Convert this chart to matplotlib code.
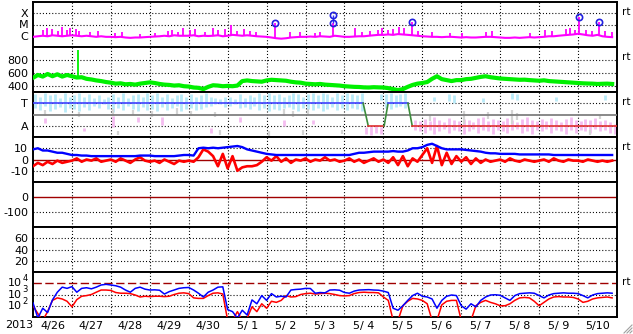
import numpy as np
import matplotlib
matplotlib.use('Agg')
import matplotlib.pyplot as plt
from matplotlib.lines import Line2D

plt.rcParams['font.family'] = ['DejaVu Sans']
plt.rcParams['lines.scale_dashes'] = False

# ---------------- data (3-hour samples, days since 2013-04-26 00:00) ----------------
day_labels = ['4/26', '4/27', '4/28', '4/29', '4/30', '5/ 1', '5/ 2', '5/ 3', '5/ 4',
              '5/ 5', '5/ 6', '5/ 7', '5/ 8', '5/ 9', '5/10']
year_label = '2013'

# X-ray background flux (units of 1e-6 W/m2)
xray_base = [0.8, 0.9, 1.0, 0.9, 1.1, 1.0, 0.9, 1.0,
             1.1, 1.0, 0.9, 1.0, 0.9, 0.8, 0.9, 0.8,
             0.8, 0.75, 0.8, 0.7, 0.65, 0.7, 0.7, 0.75,
             0.8, 0.85, 0.9, 1.0, 0.9, 1.1, 1.0, 1.0,
             1.0, 1.1, 0.9, 1.0, 0.95, 1.0, 1.1, 0.9,
             1.0, 1.2, 1.1, 1.0, 1.1, 1.0, 0.9, 0.85,
             0.8, 0.7, 0.6, 0.55, 0.6, 0.7, 0.75, 0.8,
             0.8, 0.85, 0.8, 0.9, 0.85, 0.8, 1.0, 0.9,
             0.8, 0.8, 0.85, 0.9, 0.9, 1.0, 1.1, 1.2,
             1.2, 1.3, 1.2, 1.4, 1.3, 1.2, 1.1, 1.0,
             0.9, 0.85, 0.8, 0.8, 0.75, 0.8, 0.8, 0.75,
             0.7, 0.75, 0.7, 0.7, 0.75, 0.8, 0.8, 0.75,
             0.7, 0.65, 0.65, 0.7, 0.65, 0.7, 0.75, 0.7,
             0.75, 0.8, 0.9, 0.9, 1.0, 1.1, 1.2, 1.3,
             1.5, 1.3, 1.1, 1.0, 1.2, 0.9, 0.8, 0.75]
xray_spike_day = [0.26, 0.36, 0.49, 0.64, 0.74, 0.87, 0.95, 1.10, 1.18, 1.46, 1.67,
                  2.11, 2.29, 2.75, 3.13, 3.47, 3.57, 3.72, 3.85, 4.03, 4.16, 4.42,
                  4.62, 4.75, 4.93, 5.09, 5.24, 5.42, 5.57, 5.73, 6.22, 6.60, 6.86,
                  7.24, 7.37, 7.71, 8.27, 8.45, 8.66, 8.86, 8.96, 9.12, 9.25, 9.40,
                  9.53, 9.74, 9.89, 10.25, 10.71, 11.02, 11.64, 11.79, 12.77, 13.15,
                  13.33, 13.69, 13.79, 13.92, 14.03, 14.20, 14.36, 14.54, 14.69, 14.87]
xray_spike_peak = [3.2, 4.9, 4.0, 2.6, 6.0, 3.2, 4.9, 4.0, 2.6, 2.2, 2.6,
                   1.8, 2.2, 1.4, 1.8, 2.6, 3.2, 2.2, 4.9, 3.2, 4.0, 2.2,
                   4.9, 3.2, 4.0, 9.0, 2.6, 4.0, 2.6, 2.2, 13.6, 2.2, 2.2,
                   1.8, 2.2, 13.6, 4.9, 2.2, 2.6, 3.2, 4.9, 3.2, 4.0, 6.0,
                   4.9, 16.7, 2.6, 2.2, 1.8, 1.8, 2.2, 2.6, 1.8, 3.2,
                   2.6, 4.0, 4.9, 3.2, 46.0, 3.2, 2.6, 16.7, 2.6, 2.2]
flare_day = [6.22, 7.71, 7.71, 9.74, 14.03, 14.54]
flare_peak = [13.6, 13.6, 70.0, 16.7, 46.0, 16.7]

# Solar wind speed (km/s)
sw_speed = [520, 565, 540, 580, 545, 575, 540, 565,
            545, 525, 530, 505, 495, 480, 470, 455,
            445, 430, 435, 420, 425, 415, 430, 440,
            450, 440, 425, 415, 410, 400, 405, 390,
            385, 370, 365, 345, 380, 405, 400, 390,
            395, 390, 400, 470, 480, 470, 465, 460,
            480, 490, 485, 480, 475, 460, 450, 445,
            430, 425, 420, 425, 415, 410, 405, 400,
            390, 385, 380, 378, 372, 370, 375, 372,
            370, 360, 345, 330, 345, 380, 410, 430,
            440, 455, 505, 545, 500, 485, 470, 485,
            485, 500, 505, 520, 535, 545, 530, 520,
            510, 505, 500, 495, 490, 492, 485, 480,
            475, 482, 470, 465, 460, 455, 450, 445,
            440, 435, 432, 430, 425, 428, 430, 425]
sw_spike_day = 1.16
sw_spike_val = 960

# IMF sector (T=3, A=1)
sector_day = [0, 8.48, 8.61, 9.02, 9.12, 9.63, 9.74, 15]
sector_val = [3, 3, 1, 1, 3, 3, 1, 1]
nan = np.nan
toward_hi = [3.8, 3.6, 3.9, 3.7, 3.8, 3.5, 3.9, 3.6,
             3.7, 3.9, 3.6, 3.8, 3.5, 3.7, 3.4, 3.6,
             3.8, 3.6, 3.9, 3.5, 3.7, 3.8, 3.6, 3.9,
             3.7, 3.9, 3.6, 3.8, 3.5, 3.7, 3.8, 3.6,
             3.8, 3.6, 3.7, 3.9, 3.6, 3.5, 3.4, 3.6,
             3.6, 3.4, 3.8, 3.5, 3.7, 3.6, 3.9, 3.7,
             3.9, 3.7, 3.8, 3.6, 3.7, 3.9, 3.8, 3.6,
             3.8, 3.9, 3.7, 3.9, 3.8, 3.6, 3.9, 3.7,
             3.9, 3.8, 3.7, 3.9, nan, nan, nan, 3.8,
             3.8, 3.9, 3.7, 3.8, 3.9, nan, nan, nan,
             nan, nan, 3.6, nan, nan, 3.8, 3.7, nan,
             nan, nan, nan, nan, 3.5, nan, nan, nan,
             nan, nan, 3.9, 3.8, nan, nan, nan, nan,
             nan, nan, nan, 3.6, nan, nan, nan, nan,
             nan, nan, nan, nan, nan, 3.7, nan, nan]
toward_lo = [2.6, 2.4, 2.8, 2.3, 2.5, 2.7, 2.2, 2.6,
             2.5, 2.3, 2.7, 2.4, 2.8, 2.6, 2.9, 2.5,
             2.2, 2.6, 2.4, 2.8, 2.5, 2.3, 2.7, 2.4,
             2.5, 2.3, 2.7, 2.4, 2.6, 2.8, 2.3, 2.5,
             2.6, 2.4, 2.5, 2.7, 2.8, 2.9, 2.9, 2.7,
             2.8, 2.9, 2.6, 2.7, 2.5, 2.8, 2.4, 2.6,
             2.3, 2.5, 2.4, 2.6, 2.7, 2.5, 2.3, 2.6,
             2.5, 2.4, 2.6, 2.3, 2.5, 2.7, 2.4, 2.6,
             2.4, 2.6, 2.5, 2.3, nan, nan, nan, 3.3,
             2.6, 2.5, 2.7, 2.8, 2.6, nan, nan, nan,
             nan, nan, 3.2, nan, nan, 3.2, 3.0, nan,
             nan, nan, nan, nan, 3.1, nan, nan, nan,
             nan, nan, 3.4, 3.3, nan, nan, nan, nan,
             nan, nan, nan, 3.2, nan, nan, nan, nan,
             nan, nan, nan, nan, nan, 3.3, nan, nan]
away_lo = [nan, nan, 1.25, nan, nan, nan, nan, nan,
           nan, nan, 0.5, nan, nan, nan, nan, nan,
           0.9, nan, nan, nan, nan, 1.3, nan, nan,
           nan, nan, 1.1, nan, nan, nan, nan, nan,
           nan, nan, nan, nan, 0.35, nan, nan, nan,
           nan, nan, 1.3, nan, nan, nan, nan, nan,
           nan, nan, nan, 1.0, nan, nan, nan, nan,
           nan, 1.2, nan, nan, nan, nan, nan, nan,
           nan, nan, nan, nan, 0.3, 0.2, 0.4, 0.3,
           nan, nan, nan, nan, nan, nan, 0.6, 0.5,
           0.4, 0.6, 0.3, 0.5, 0.7, 0.4, 0.6, 0.5,
           0.3, 0.5, 0.7, 0.4, 0.6, 0.5, 0.3, 0.6,
           0.5, 0.4, 0.6, 0.7, 0.4, 0.5, 0.3, 0.6,
           0.5, 0.7, 0.4, 0.6, 0.5, 0.3, 0.6, 0.4,
           0.6, 0.5, 0.4, 0.7, 0.5, 0.6, 0.4, 0.3]
away_hi = [nan, nan, 1.7, nan, nan, nan, nan, nan,
           nan, nan, 0.8, nan, nan, nan, nan, nan,
           1.9, nan, nan, nan, nan, 1.8, nan, nan,
           nan, nan, 1.8, nan, nan, nan, nan, nan,
           nan, nan, nan, nan, 0.8, nan, nan, nan,
           nan, nan, 1.8, nan, nan, nan, nan, nan,
           nan, nan, nan, 1.5, nan, nan, nan, nan,
           nan, 1.5, nan, nan, nan, nan, nan, nan,
           nan, nan, nan, nan, 0.9, 1.0, 1.1, 0.9,
           nan, nan, nan, nan, nan, nan, 1.5, 1.4,
           1.6, 1.4, 1.8, 1.5, 1.3, 1.7, 1.5, 1.4,
           1.6, 1.5, 1.3, 1.7, 1.8, 1.4, 1.6, 1.5,
           1.4, 1.7, 1.5, 1.3, 1.6, 1.8, 1.5, 1.4,
           1.6, 1.4, 1.7, 1.5, 1.3, 1.6, 1.8, 1.5,
           1.4, 1.6, 1.5, 1.7, 1.4, 1.5, 1.3, 1.2]
gray_day = [0.25, 1.125, 2.0, 2.125, 2.5, 3.0, 3.625, 4.0, 4.625, 4.75, 6.0, 6.375,
            6.625, 6.875, 7.0, 7.875, 10.125, 11.0, 11.625, 12.25, 12.375, 14.25, 14.5]
gray_lo = [1.9, 1.8, 1.9, 0.2, 2.0, 1.8, 2.0, 1.9, 1.8, 0.2, 0.1, 1.9,
           1.8, 0.2, 2.0, 0.3, 1.4, 1.2, 1.6, 1.2, 1.5, 0.2, 1.6]
gray_hi = [2.4, 2.2, 2.5, 0.5, 2.4, 2.3, 2.6, 2.3, 2.2, 0.6, 0.5, 2.5,
           2.3, 0.6, 2.5, 0.6, 2.0, 2.3, 2.2, 2.4, 2.1, 0.6, 2.0]

# IMF (nT)
imf_bt = [9, 10, 8, 8, 7, 6, 6, 5,
          4, 4, 3.5, 3.5, 3, 3, 3, 3,
          3, 3, 3, 3, 3, 3, 3.5, 3.5,
          3.5, 3, 3, 3, 3, 3, 3.5, 4,
          4, 3.5, 10, 10.5, 10, 10.5, 10, 10.5,
          11, 11.5, 12, 11, 9, 8, 7, 6,
          5, 4.5, 4, 4, 4, 4, 4, 4,
          4, 4, 4, 4, 4, 4, 4, 4,
          4, 4, 5, 6, 6, 6.5, 7, 7,
          7, 7, 7.5, 7, 7, 8, 10, 10,
          11, 13, 14, 12, 10, 9, 9, 9,
          9, 8.5, 8, 7.5, 7, 6, 5.5, 5.5,
          5, 5, 5, 5, 4.5, 4.5, 4.5, 4.5,
          4.5, 4.5, 4.5, 4, 4, 4, 4, 4,
          4, 4, 4, 4, 4, 4, 4, 4]
imf_bz = [-6, -3, -5, -2, -4, -1, -3, -2,
          -1, 1, -2, 0, -1, 1, -2, -1,
          0, -2, 1, -1, -3, 0, 2, -1,
          -2, -1, -3, 0, -2, -4, -1, -2,
          -1, -2, 2, 9, 7, 3, -6, 5,
          -8, 3, -10, -7, -6, -6, -5, -2,
          2, -1, 3, -2, 1, -3, 0, -1,
          1, -2, 0, -1, 2, -1, 0, -2,
          -1, 1, -2, 0, -3, -1, 1, -2,
          0, -3, 2, -5, 3, -6, 1, -2,
          4, 10, -3, 12, -5, 6, -4, 3,
          -2, 2, -4, 1, -3, 0, -2, -1,
          0, -2, 1, -1, -2, 0, -1, -2,
          -1, 0, -2, 1, -1, -2, 0, -1,
          -1, -2, 0, -1, -2, -1, -2, -1]

# Electron flux (log panel)
flux_blue = [180, 8, 60, 25, 330, 1600, 4500, 3500,
             5000, 1600, 3500, 4000, 3200, 4500, 7000, 8000,
             7000, 6000, 4500, 2500, 1600, 3500, 4500, 3000,
             2500, 2600, 2400, 1100, 1800, 2500, 3500, 4000,
             4200, 2500, 1300, 600, 1600, 2500, 4500, 4800,
             45, 30, 8, 40, 15, 330, 150, 800,
             300, 1200, 600, 700, 600, 2500, 2800, 3000,
             3500, 3400, 1300, 1500, 1400, 2500, 2600, 2400,
             1500, 1300, 2000, 2500, 2600, 2700, 2500, 2400,
             2000, 1500, 60, 40, 100, 300, 800, 1300,
             700, 600, 400, 60, 300, 700, 900, 800,
             100, 50, 150, 80, 300, 600, 900, 950,
             850, 500, 300, 800, 1200, 1300, 1400, 1300,
             800, 500, 900, 1200, 1300, 1400, 1300, 1300,
             1200, 800, 500, 900, 1200, 1300, 1400, 1300]
flux_red = [100, 20, 5, 30, 300, 500, 400, 250,
            80, 350, 700, 800, 1000, 1600, 2500, 2500,
            2300, 1500, 1300, 1300, 1200, 900, 600, 700,
            650, 700, 700, 650, 700, 1000, 1300, 1400,
            1200, 500, 450, 450, 800, 1300, 1400, 1100,
            5, 5, 30, 5, 8, 80, 30, 150,
            60, 250, 200, 300, 800, 600, 650, 1000,
            1200, 1300, 1100, 1200, 1300, 1200, 1000, 800,
            750, 800, 1200, 1500, 1600, 1500, 1500, 1400,
            600, 300, 5, 5, 100, 250, 450, 400,
            300, 150, 5, 5, 120, 250, 300, 300,
            5, 5, 5, 100, 200, 300, 200, 150,
            100, 100, 150, 300, 500, 550, 500, 250,
            100, 200, 400, 600, 650, 600, 600, 550,
            400, 200, 250, 400, 500, 550, 600, 500]
flux_ticks = [1e2, 1e3, 1e4]
flux_tick_exp = ['2', '3', '4']

t = np.arange(len(xray_base)) * 0.125

# ---------------- figure ----------------
W, H = 633, 334
PT = 0.72  # points per pixel at dpi 100
fig = plt.figure(figsize=(W / 100, H / 100), dpi=100)
left_px, right_px, top_px, ph = 33, 617, 2, 45
dot = (0, (0.75, 1.5))
DR = '#a00000'
n_panels = 7
axes = []
for i in range(n_panels):
    top = top_px + ph * i
    ax = fig.add_axes([left_px / W, 1 - (top + ph) / H, (right_px - left_px) / W, ph / H])
    ax.set_xlim(0, 15)
    for s in ax.spines.values():
        s.set_linewidth(1.4)
        s.set_color('black')
    ax.tick_params(axis='both', length=0, labelsize=8, pad=3.5, colors='black')
    ax.set_xticks([])
    for d in range(1, 15):
        ax.axvline(d, color='black', lw=0.8, ls=dot, zorder=1)
    axes.append(ax)

def hgrid(ax, vals):
    for v in vals:
        ax.axhline(v, color='black', lw=0.8, ls=dot, zorder=1)

def rt(ax):
    ax.text(1.008, 1 - 10 / ph, 'rt', transform=ax.transAxes, fontsize=7.5,
            ha='left', va='center')

# Panel 1: X-ray
ax = axes[0]
ax.set_yscale('log')
ax.set_ylim(1e-7, 1e-3)
ax.set_yticks([1e-6, 1e-5, 1e-4])
ax.set_yticklabels(['C', 'M', 'X'])
ax.minorticks_off()
hgrid(ax, [1e-5, 1e-4])
xb = np.array(xray_base) * 1e-6
ax.plot(t, xb, color='#ff00ff', lw=1.5, zorder=3)
base_at = np.interp(xray_spike_day, t, xb)
ax.vlines(xray_spike_day, base_at, np.array(xray_spike_peak) * 1e-6,
          color='#ff00ff', lw=1.3, zorder=3)
fp = np.array(flare_peak) * 1e-6
ax.vlines([flare_day[1]], [fp[1]], [fp[2]], color='#3030ff', lw=1.0, zorder=3)
ax.plot(flare_day, fp, ls='none', marker='o', ms=4.5, mfc='none',
        mec='#2020e0', mew=1.2, zorder=4)
rt(ax)

# Panel 2: solar wind speed
ax = axes[1]
ax.set_ylim(300, 1000)
ax.set_yticks([400, 600, 800])
ax.set_yticklabels(['400', '600', '800'])
hgrid(ax, [400, 600, 800])
ax.plot(t, sw_speed, color='#00f000', lw=3.0, zorder=3)
ax.vlines([sw_spike_day], [np.interp(sw_spike_day, t, sw_speed)], [sw_spike_val],
          color='#00f000', lw=1.3, zorder=3)
rt(ax)

# Panel 3: IMF sector
ax = axes[2]
ax.set_ylim(0, 4)
ax.set_yticks([1, 3])
ax.set_yticklabels(['A', 'T'])
hgrid(ax, [1, 3])
tb = t + 0.0625
th, tl = np.array(toward_hi), np.array(toward_lo)
m = ~np.isnan(th)
ax.vlines(tb[m], tl[m], th[m], color='#b8eaf8', lw=2.0, zorder=2)
ah, al = np.array(away_hi), np.array(away_lo)
m = ~np.isnan(ah)
ax.vlines(tb[m], al[m], ah[m], color='#f4bcf0', lw=2.0, zorder=2)
ax.vlines(np.array(gray_day) + 0.0625, gray_lo, gray_hi, color='#d4d4d4', lw=1.6, zorder=2)
ax.axhline(2, color='#808080', lw=1.3, zorder=3)
for k in range(len(sector_day) - 1):
    x0, x1 = sector_day[k], sector_day[k + 1]
    y0, y1 = sector_val[k], sector_val[k + 1]
    if y0 != y1:
        c = '#3c8c3c'
    elif y0 == 3:
        c = '#4040ff'
    else:
        c = '#e03030'
    ax.plot([x0, x1], [y0, y1], color=c, lw=1.2, zorder=4)
rt(ax)

# Panel 4: IMF Bt / Bz
ax = axes[3]
ax.set_ylim(-20, 20)
ax.set_yticks([-10, 0, 10])
ax.set_yticklabels(['-10', '0', '10'])
hgrid(ax, [-10, 10])
ax.axhline(0, color=DR, lw=1.0, zorder=2)
ax.plot(t, imf_bz, color='#ff0000', lw=1.9, zorder=3)
ax.plot(t, imf_bt, color='#0000ff', lw=1.7, zorder=4)
rt(ax)

# Panel 5: Dst
ax = axes[4]
ax.set_ylim(-200, 100)
ax.set_yticks([-100, 0])
ax.set_yticklabels(['-100', '0'])
hgrid(ax, [-100])
ax.axhline(0, color=DR, lw=1.0, zorder=2)

# Panel 6
ax = axes[5]
ax.set_ylim(0, 80)
ax.set_yticks([20, 40, 60])
ax.set_yticklabels(['20', '40', '60'])
hgrid(ax, [20, 40, 60])

# Panel 7: electron flux
ax = axes[6]
ax.set_yscale('log')
ax.set_ylim(10, 1e5)
ax.set_yticks([])
ax.minorticks_off()
ytr = ax.get_yaxis_transform()
for v, e in zip(flux_ticks, flux_tick_exp):
    ax.annotate('10', xy=(0, v), xycoords=ytr, xytext=(-11 * PT, 0),
                textcoords='offset points', ha='right', va='center', fontsize=8)
    ax.annotate(e, xy=(0, v), xycoords=ytr, xytext=(-10.5 * PT, 4.5 * PT),
                textcoords='offset points', ha='left', va='center', fontsize=6)
hgrid(ax, [1e2, 1e3])
ax.axhline(1e4, color=DR, lw=1.0, ls=(0, (6, 2.5)), zorder=2)
ax.plot(t, flux_red, color='#ff0000', lw=1.1, zorder=3)
ax.plot(t, flux_blue, color='#0000ff', lw=1.1, zorder=4)
ax.set_xticks(np.arange(len(day_labels)) + 0.5)
ax.set_xticklabels(day_labels)
ax.tick_params(axis='x', pad=3)
rt(ax)

fig.text(5 / W, 1 - 325 / H, year_label, fontsize=8, ha='left', va='center')

# resize grip
for k in range(3):
    off = 3 + 3 * k
    fig.add_artist(Line2D([(W - off) / W, (W - 1) / W], [1 / H, off / H],
                          transform=fig.transFigure, color='#a0a0a0', lw=0.8))

fig.savefig('out.png', dpi=100)
